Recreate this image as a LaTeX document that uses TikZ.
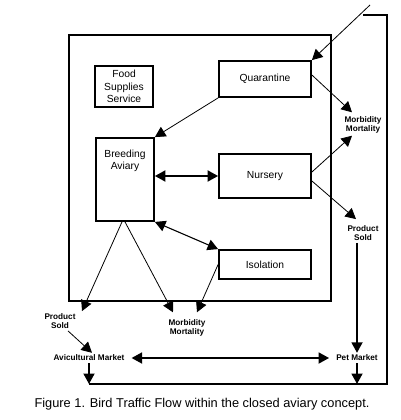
\documentclass[tikz,border=0pt]{standalone}
\usepackage{fontspec}
\setmainfont{Liberation Sans}
\usetikzlibrary{positioning, arrows.meta}

\begin{document}
\begin{tikzpicture}[x=1pt, y=-1pt, on grid, >={Triangle[length=10.5pt, width=11pt]},
    box/.style={draw, line width=1.8pt, inner sep=0pt, align=center, font=\fontsize{10.3}{12.2}\selectfont},
    tag/.style={inner sep=2pt, align=center, font=\fontsize{8.2}{9.4}\selectfont\bfseries},
    flow/.style={->, line width=0.8pt},
    bigflow/.style={->, line width=1.8pt}]
      \useasboundingbox (0,0) rectangle (400,420);
      \node[draw, line width=1.8pt, minimum width=262pt, minimum height=266pt] (aviary) at (200,168) {};
      \node[box, minimum width=92pt, minimum height=36pt] (quar) at (265,79) {Quarantine};
      \node[box, minimum width=58pt, minimum height=41pt] (food) at (124,86.5) {Food\\Supplies\\Service};
      \node[box, minimum width=58pt, minimum height=83pt,
            label={[anchor=north, yshift=-9pt, align=center, font=\fontsize{10.3}{12.2}\selectfont]north:{Breeding\\Aviary}}] (breed) at (125,179.5) {};
      \node[box, minimum width=92pt, minimum height=44pt] (nurs) at (265,176) {Nursery};
      \node[box, minimum width=92pt, minimum height=29pt] (isol) at (265,264.5) {Isolation};
      \node[tag] (mmR) at (363,125) {Morbidity\\Mortality};
      \node[tag, below=108pt of mmR] (psR) {Product\\Sold};
      \node[tag, below=125pt of psR, xshift=-6pt] (pet) {Pet Market};
      \node[tag, left=268pt of pet] (avi) {Avicultural Market};
      \node[tag, above left=37pt and 29pt of avi] (psL) {Product\\Sold};
      \node[tag] (mmB) at (187,328) {Morbidity\\Mortality};
      \node[font=\fontsize{12.8}{14}\selectfont] (cap) at (202,404) {Figure 1. Bird Traffic Flow within the closed aviary concept.};
      \coordinate (src) at (370,5);
      \coordinate (tl) at (363,15);
      \coordinate (tr) at (387,15);
      \coordinate (br) at (387,384);
      % birds coming in and moving inside
      \draw[flow] (src) -- (quar.north east);
      \draw[flow] (quar.south west) -- (breed.north east);
      \draw[bigflow, <->] (breed.east |- nurs.west) -- (nurs.west);
      \draw[flow, <->, line width=1.1pt] (breed.south east) -- (isol.north west);
      % losses and sales
      \draw[flow] ([yshift=4pt]quar.east) -- ([xshift=-11pt, yshift=2pt]mmR.north);
      \draw[flow] ([yshift=4pt]nurs.east) -- ([xshift=-11pt]mmR.south);
      \draw[flow] ([yshift=-5pt]nurs.east) -- ([xshift=-7pt, yshift=4pt]psR.north);
      \draw[flow] ([xshift=-3pt]breed.south) -- ([xshift=22pt]psL.north);
      \draw[flow] (breed.south) -- ([xshift=-14pt, yshift=5pt]mmB.north);
      \draw[flow] (isol.west) -- ([xshift=10pt, yshift=5pt]mmB.north);
      \draw[flow] ([xshift=8pt]psL.south) -- ([xshift=3pt]avi.north);
      % markets
      \draw[bigflow] (pet.north |- psR.south) -- (pet.north);
      \draw[bigflow, <->, shorten <=5pt, shorten >=5pt] (avi) -- (pet);
      \draw[line width=1.8pt] (avi.south |- br) -- (br) -- (tr) -- (tl);
      \draw[bigflow] (avi.south) -- (avi.south |- br);
      \draw[bigflow] (pet.south) -- (pet.south |- br);
    \end{tikzpicture}
\end{document}
